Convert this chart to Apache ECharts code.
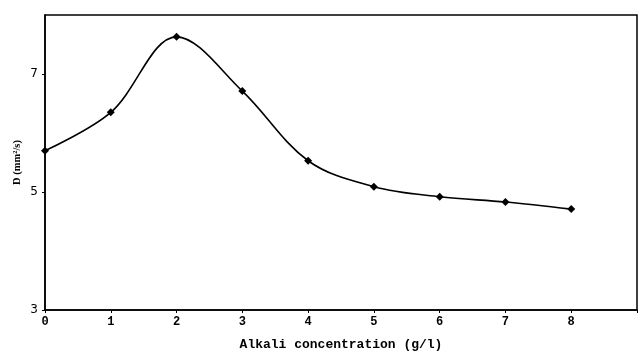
<!DOCTYPE html>
<html><head><meta charset="utf-8">
<script src="https://cdn.jsdelivr.net/npm/echarts@6/dist/echarts.min.js"></script>
<style>html,body{margin:0;padding:0;background:#fff}#c{width:639px;height:351px}</style>
</head><body><div id="c"></div>
<script>
const xValues = [0, 1, 2, 3, 4, 5, 6, 7, 8];
const dValues = [5.70, 6.35, 7.63, 6.71, 5.53, 5.09, 4.92, 4.83, 4.71];
const yTickLabels = [3, 5, 7];
const xTickLabels = [0, 1, 2, 3, 4, 5, 6, 7, 8];

const chart = echarts.init(document.getElementById('c'), null, {renderer: 'canvas'});
chart.setOption({
  animation: false,
  backgroundColor: '#fff',
  grid: {left: 45, right: 2, top: 15, bottom: 41, outerBoundsMode: 'none', containLabel: false,
         show: true, borderColor: '#000', borderWidth: 1.5, backgroundColor: 'transparent'},
  xAxis: {
    type: 'value', min: 0, max: 9, interval: 1,
    name: 'Alkali concentration (g/l)', nameLocation: 'middle', nameGap: 28,
    nameTextStyle: {fontFamily: 'Liberation Mono', fontWeight: 'bold', fontSize: 13, color: '#000'},
    axisLine: {show: true, lineStyle: {color: '#000', width: 1.5}},
    axisTick: {show: true, length: 3, lineStyle: {color: '#000'}},
    splitLine: {show: false},
    axisLabel: {
      fontFamily: 'Liberation Mono', fontWeight: 'bold', fontSize: 12, color: '#000', margin: 6,
      formatter: v => xTickLabels.includes(v) ? String(v) : ''
    }
  },
  yAxis: {
    type: 'value', min: 3, max: 8,
    name: 'D (mm\u00b2/s)', nameLocation: 'middle', nameGap: 22, nameMoveOverlap: false,
    nameTextStyle: {fontFamily: 'Liberation Serif', fontWeight: 'bold', fontSize: 10.5, color: '#000'},
    axisLine: {show: true, lineStyle: {color: '#000', width: 1.5}},
    axisTick: {show: true, length: 3, lineStyle: {color: '#000'}, customValues: yTickLabels},
    splitLine: {show: false},
    axisLabel: {
      fontFamily: 'DejaVu Sans', fontSize: 12, color: '#000', margin: 7,
      customValues: yTickLabels
    }
  },
  series: [{
    type: 'line',
    data: xValues.map((x, i) => [x, dValues[i]]),
    smooth: 0.35,
    symbol: 'diamond', symbolSize: 8,
    itemStyle: {color: '#000'},
    lineStyle: {color: '#000', width: 1.6}
  }]
});
</script></body></html>
